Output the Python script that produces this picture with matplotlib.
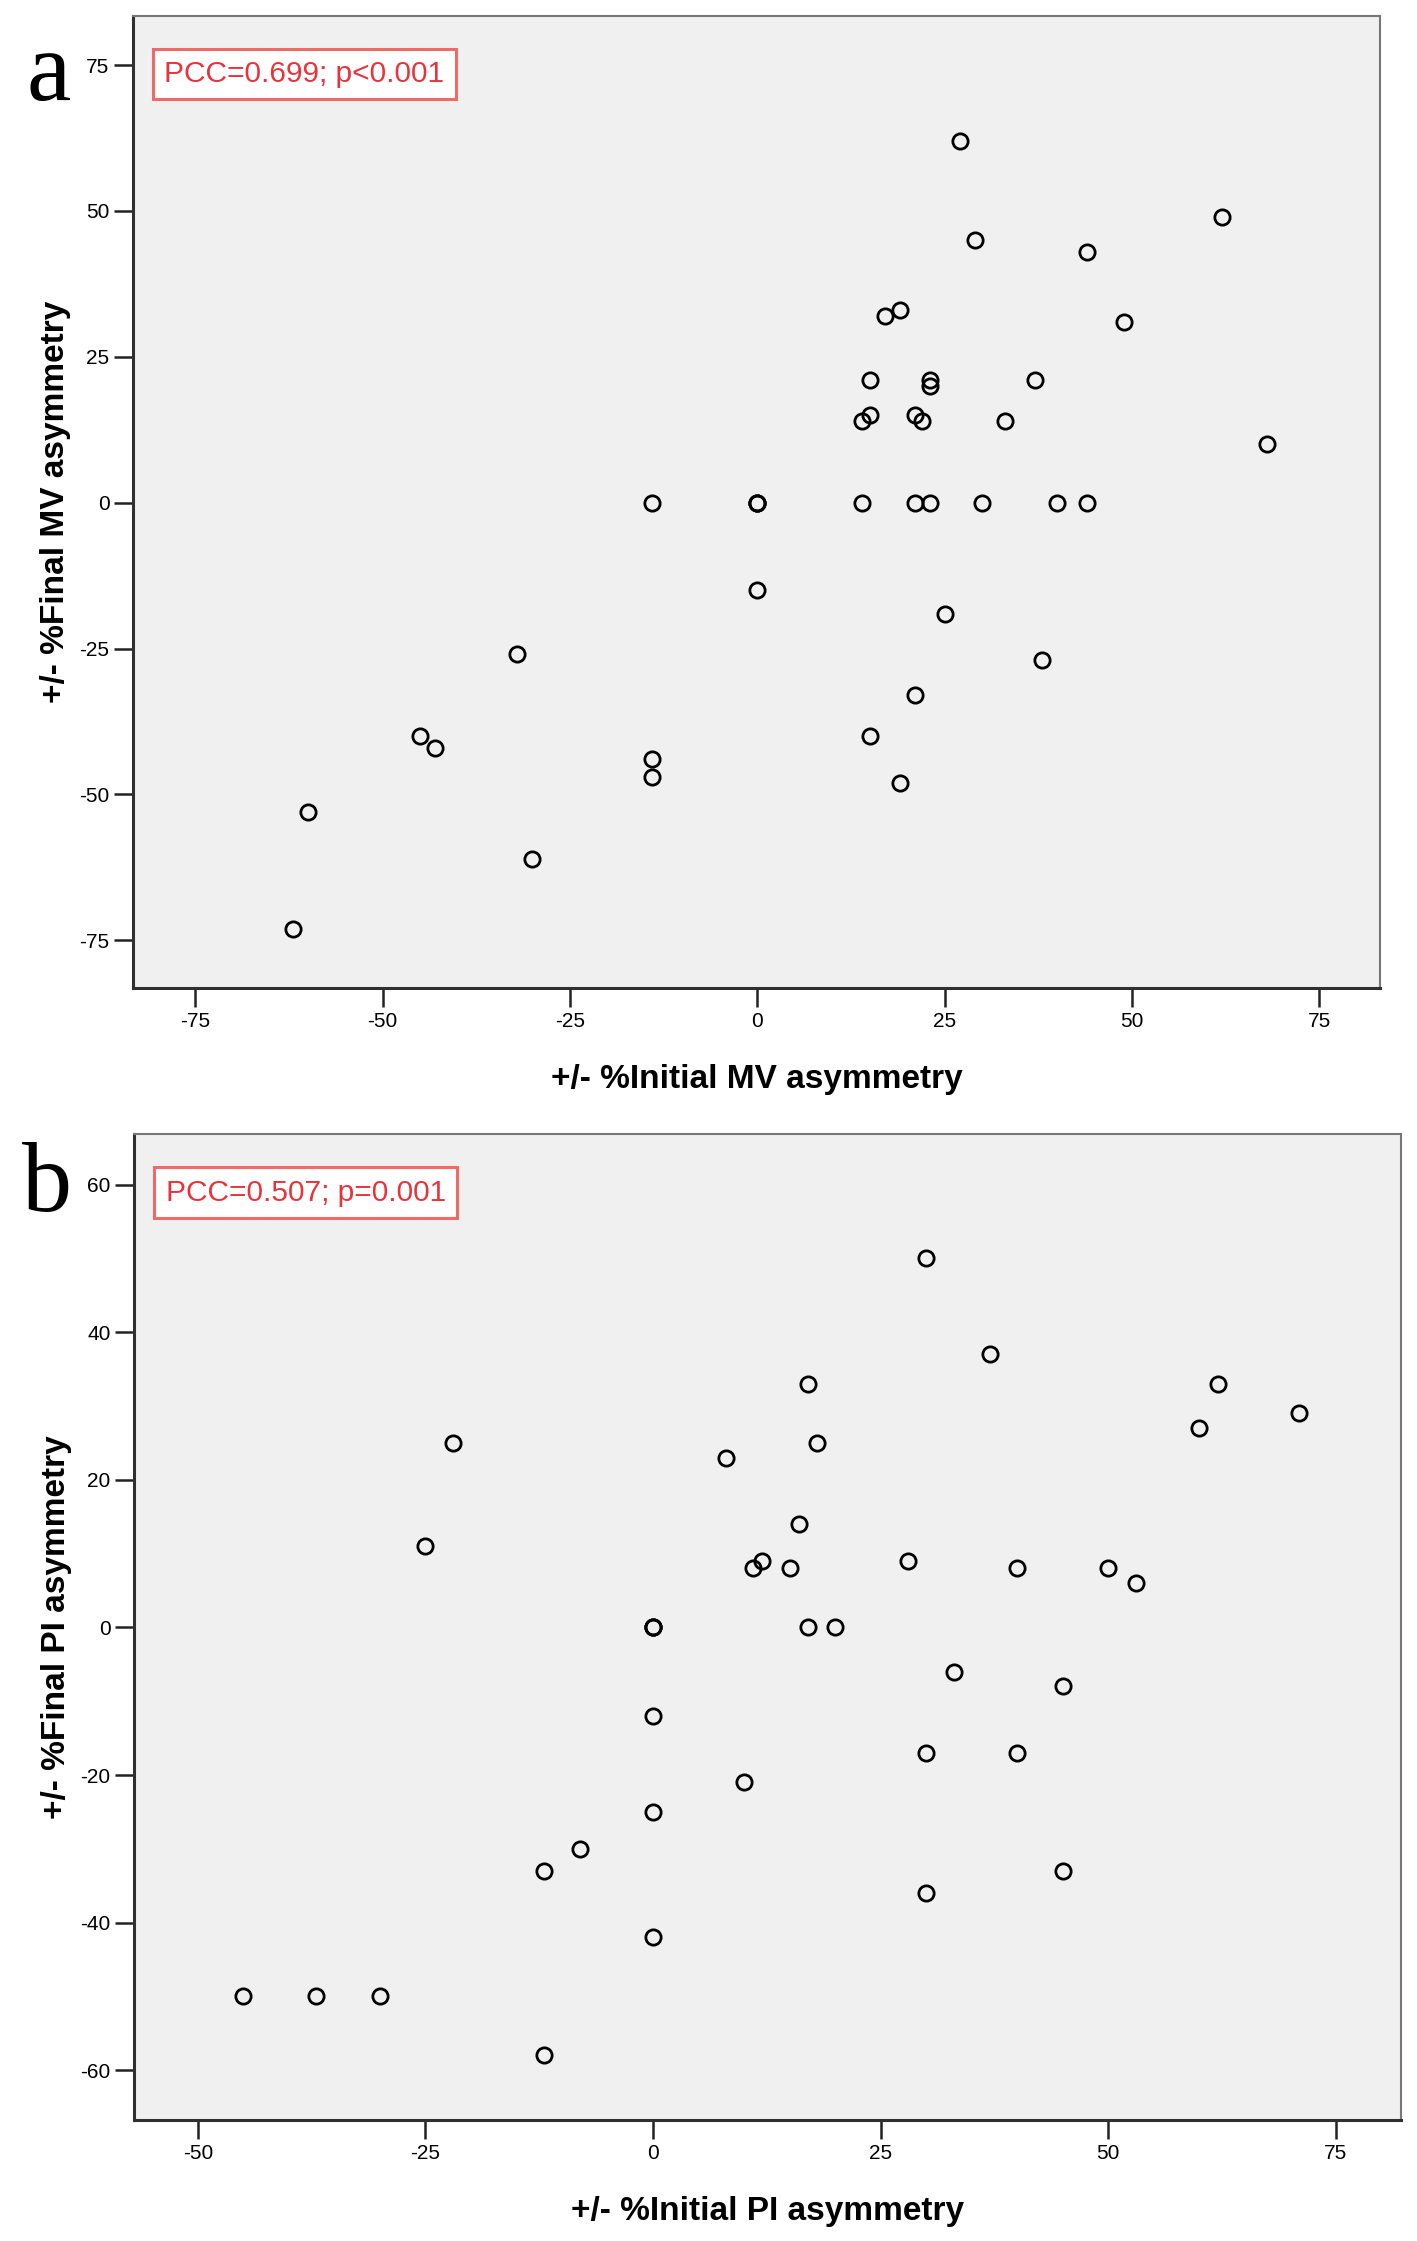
import matplotlib
matplotlib.use("Agg")
import matplotlib.pyplot as plt

plt.rcParams['font.family'] = ['Liberation Sans', 'DejaVu Sans']
plt.rcParams['axes.unicode_minus'] = False

# panel a: MV asymmetry
mv_initial = [27, 62, 29, 44, 19, 17, 49, 15, 23, 23, 37, 15, 14, 21, 22, 33, 68,
              -14, 0, 0, 0, 14, 21, 23, 30, 40, 44,
              0, 25, -32, 38, 21, -45, -43, 15, -14, -14, 19, -60, -30, -62]
mv_final = [62, 49, 45, 43, 33, 32, 31, 21, 21, 20, 21, 15, 14, 15, 14, 14, 10,
            0, 0, 0, 0, 0, 0, 0, 0, 0, 0,
            -15, -19, -26, -27, -33, -40, -42, -40, -44, -47, -48, -53, -61, -73]

# panel b: PI asymmetry
pi_initial = [30, 37, 17, 62, 71, 60, 18, -22, 8, 16, -25, 11, 12, 15, 28, 40, 50, 53,
              0, 0, 0, 17, 20, 33, 45, 0, 30, 40, 10, 0, -8, -12, 45, 30, 0,
              -45, -37, -30, -12]
pi_final = [50, 37, 33, 33, 29, 27, 25, 25, 23, 14, 11, 8, 9, 8, 9, 8, 8, 6,
            0, 0, 0, 0, 0, -6, -8, -12, -17, -17, -21, -25, -30, -33, -33, -36, -42,
            -50, -50, -50, -58]

mv_ticks = [-75, -50, -25, 0, 25, 50, 75]
pi_xticks = [-50, -25, 0, 25, 50, 75]
pi_yticks = [-60, -40, -20, 0, 20, 40, 60]

fig = plt.figure(figsize=(14.17, 22.41), dpi=100)
ax1 = fig.add_axes([0.0939, 0.5591, 0.880, 0.4337])
ax2 = fig.add_axes([0.0946, 0.0538, 0.8938, 0.4400])


def style(ax, xlabel, ylabel):
    ax.set_facecolor('#f0f0f0')
    for s in ['left', 'bottom']:
        ax.spines[s].set_color('#303030')
        ax.spines[s].set_linewidth(2.2)
    for s in ['top', 'right']:
        ax.spines[s].set_color('#777777')
        ax.spines[s].set_linewidth(1.5)
    ax.tick_params(length=14, width=1.8, color='#222222', labelsize=15, pad=3)
    ax.set_xlabel(xlabel, fontsize=24, fontweight='bold', labelpad=24)
    ax.set_ylabel(ylabel, fontsize=24, fontweight='bold', labelpad=6)


ax1.plot(mv_initial, mv_final, 'o', mfc='none', mec='black', ms=11, mew=2)
ax1.set_xlim(-83.3, 83.1)
ax1.set_ylim(-83.2, 83.4)
ax1.set_xticks(mv_ticks)
ax1.set_yticks(mv_ticks)
style(ax1, '+/- %Initial MV asymmetry', '+/- %Final MV asymmetry')

ax2.plot(pi_initial, pi_final, 'o', mfc='none', mec='black', ms=11, mew=2)
ax2.set_xlim(-57.0, 82.1)
ax2.set_ylim(-66.8, 66.8)
ax2.set_xticks(pi_xticks)
ax2.set_yticks(pi_yticks)
style(ax2, '+/- %Initial PI asymmetry', '+/- %Final PI asymmetry')

box = dict(boxstyle='square,pad=0.38', fc='white', ec='#f06a6a', lw=2.2)
ax1.text(0.025, 0.955, 'PCC=0.699; p<0.001', transform=ax1.transAxes, color='#e8333c',
         fontsize=21.5, va='top', ha='left', bbox=box)
ax2.text(0.025, 0.955, 'PCC=0.507; p=0.001', transform=ax2.transAxes, color='#e8333c',
         fontsize=21.5, va='top', ha='left', bbox=box)

fig.text(27 / 1417, 1 - 100 / 2241, 'a', family='Liberation Serif', fontsize=72,
         ha='left', va='baseline')
fig.text(22 / 1417, 1 - 1211 / 2241, 'b', family='Liberation Serif', fontsize=72,
         ha='left', va='baseline')

fig.savefig('out.png', dpi=100)
